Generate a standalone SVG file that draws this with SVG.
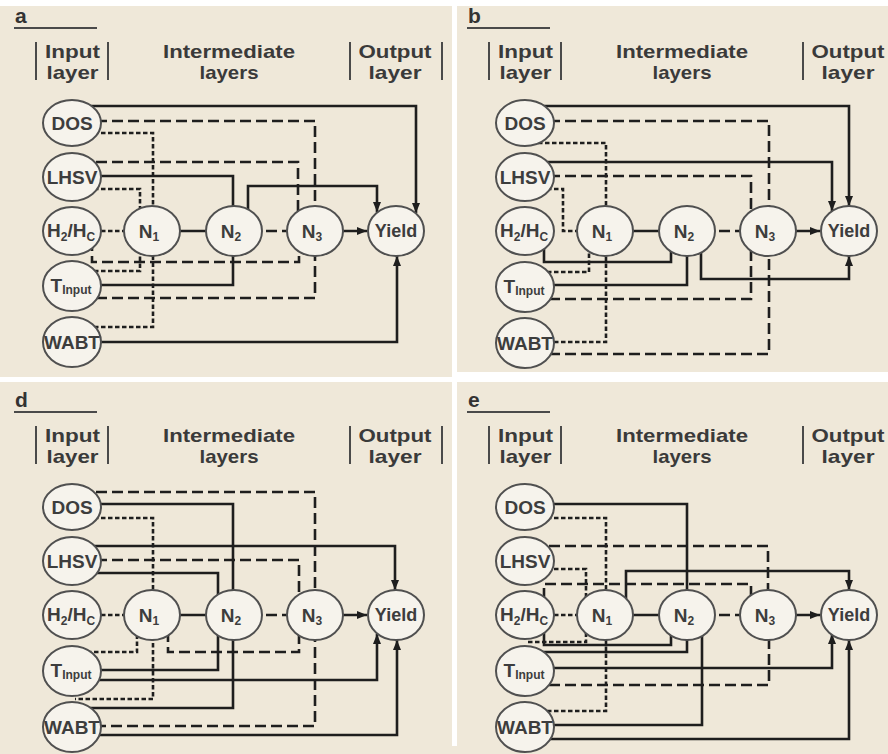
<svg xmlns="http://www.w3.org/2000/svg" width="888" height="754" viewBox="0 0 888 754">
<style>
.hdr{font-family:"Liberation Sans",Arial,sans-serif;font-weight:bold;font-size:19px;fill:#3a3a3a;text-anchor:middle}
.plbl{font-family:"Liberation Sans",Arial,sans-serif;font-weight:bold;font-size:21px;fill:#333}
.bar{stroke:#4a4a4a;stroke-width:2;fill:none}
.nd ellipse{fill:#f6f3ec;stroke:#505050;stroke-width:2}
.nd text{font-family:"Liberation Sans",Arial,sans-serif;font-weight:bold;font-size:19px;fill:#3d3d3d;text-anchor:middle}
.nd .sub{font-size:12px}
.c path{fill:none;stroke:#1e1e1e;stroke-width:2.6}
.c .d{stroke-dasharray:11 5}
.c .t{stroke-dasharray:4.5 2.5}
.c .a{marker-end:url(#ah)}
</style>
<defs>
<marker id="ah" markerUnits="userSpaceOnUse" viewBox="0 0 10 8" markerWidth="10" markerHeight="8" refX="10" refY="4" orient="auto"><path d="M0,0 L10,4 L0,8 z" fill="#1e1e1e"/></marker>
</defs>
<rect x="0" y="0" width="888" height="754" fill="#efe8d9"/>
<g id="separators" fill="#ffffff">
<rect x="0" y="0" width="888" height="6"/>
<rect x="452" y="0" width="5" height="746"/>
<rect x="0" y="377" width="888" height="5"/>
<rect x="457" y="372" width="431" height="5"/>
</g>

<!-- PANEL A -->
<g id="panel-a">
<g id="a-header">
<text class="plbl" x="15" y="23">a</text>
<line class="bar" x1="14" y1="28" x2="97" y2="28"/>
<line class="bar" x1="36" y1="42" x2="36" y2="80"/>
<line class="bar" x1="108" y1="42" x2="108" y2="80"/>
<line class="bar" x1="350" y1="42" x2="350" y2="80"/>
<line class="bar" x1="442" y1="42" x2="442" y2="80"/>
<text class="hdr" x="72.5" y="57.5" textLength="55" lengthAdjust="spacingAndGlyphs">Input</text><text class="hdr" x="72.5" y="79" textLength="52" lengthAdjust="spacingAndGlyphs">layer</text>
<text class="hdr" x="229" y="57.5" textLength="132" lengthAdjust="spacingAndGlyphs">Intermediate</text><text class="hdr" x="229" y="79" textLength="59" lengthAdjust="spacingAndGlyphs">layers</text>
<text class="hdr" x="395" y="57.5" textLength="73" lengthAdjust="spacingAndGlyphs">Output</text><text class="hdr" x="395" y="79" textLength="53" lengthAdjust="spacingAndGlyphs">layer</text>
</g>
<g id="a-connectors" class="c">
<path class="a" d="M80,106 H416 V213"/>
<path class="d" d="M80,121 H315 V231"/>
<path class="t" d="M80,133 H153 V231"/>
<path class="d" d="M80,162 H298 V231"/>
<path d="M80,176 H233 V231"/>
<path class="t" d="M80,189 H140 V231"/>
<path class="a" d="M248,231 V186 H377 V212"/>
<path class="t" d="M80,231 H140"/>
<path d="M170,231 H220"/>
<path class="d" d="M250,231 H300"/>
<path class="a" d="M330,231 H367"/>
<path class="d" d="M92,240 V262 H299 V231"/>
<path class="t" d="M80,271 H140 V231"/>
<path d="M80,285 H233 V231"/>
<path class="d" d="M80,298 H315 V231"/>
<path class="t" d="M80,327 H153 V231"/>
<path class="a" d="M80,342 H397 V256"/>
</g>
<g id="a-DOS" class="nd"><ellipse cx="72" cy="123" rx="29" ry="23"/><text x="72" y="130">DOS</text></g>
<g id="a-LHSV" class="nd"><ellipse cx="72" cy="177" rx="29" ry="24"/><text x="72" y="184">LHSV</text></g>
<g id="a-H2HC" class="nd"><ellipse cx="72" cy="231" rx="29" ry="24"/><text x="71" y="237">H<tspan class="sub" dy="4">2</tspan><tspan dy="-4">/H</tspan><tspan class="sub" dy="4">C</tspan></text></g>
<g id="a-Tinput" class="nd"><ellipse cx="72" cy="286" rx="29" ry="25"/><text x="71" y="292">T<tspan class="sub" dy="2">Input</tspan></text></g>
<g id="a-WABT" class="nd"><ellipse cx="72" cy="342" rx="29" ry="25"/><text x="72" y="349">WABT</text></g>
<g id="a-N1" class="nd"><ellipse cx="152" cy="231" rx="28" ry="25"/><text x="149" y="238">N<tspan class="sub" dy="3">1</tspan></text></g>
<g id="a-N2" class="nd"><ellipse cx="234" cy="231" rx="28" ry="25"/><text x="231" y="238">N<tspan class="sub" dy="3">2</tspan></text></g>
<g id="a-N3" class="nd"><ellipse cx="315" cy="231" rx="28" ry="25"/><text x="312" y="238">N<tspan class="sub" dy="3">3</tspan></text></g>
<g id="a-Yield" class="nd"><ellipse cx="396" cy="231" rx="28" ry="25"/><text x="396" y="237" style="font-size:18px">Yield</text></g>
</g>

<!-- PANEL B -->
<g id="panel-b" transform="translate(453,0)">
<g id="b-header">
<text class="plbl" x="15" y="23">b</text>
<line class="bar" x1="14" y1="28" x2="97" y2="28"/>
<line class="bar" x1="36" y1="42" x2="36" y2="80"/>
<line class="bar" x1="108" y1="42" x2="108" y2="80"/>
<line class="bar" x1="350" y1="42" x2="350" y2="80"/>
<text class="hdr" x="72.5" y="57.5" textLength="55" lengthAdjust="spacingAndGlyphs">Input</text><text class="hdr" x="72.5" y="79" textLength="52" lengthAdjust="spacingAndGlyphs">layer</text>
<text class="hdr" x="229" y="57.5" textLength="132" lengthAdjust="spacingAndGlyphs">Intermediate</text><text class="hdr" x="229" y="79" textLength="59" lengthAdjust="spacingAndGlyphs">layers</text>
<text class="hdr" x="395" y="57.5" textLength="73" lengthAdjust="spacingAndGlyphs">Output</text><text class="hdr" x="395" y="79" textLength="53" lengthAdjust="spacingAndGlyphs">layer</text>
</g>
<g id="b-connectors" class="c">
<path class="a" d="M80,106 H396 V206"/>
<path class="d" d="M80,121 H316 V231"/>
<path class="t" d="M78,143 H153 V231"/>
<path class="a" d="M80,162 H379 V211"/>
<path class="d" d="M80,176 H298 V231"/>
<path class="t" d="M80,189 H110 V231 H140"/>
<path d="M170,231 H220"/>
<path class="d" d="M250,231 H300"/>
<path class="a" d="M330,231 H367"/>
<path d="M91,240 V262 H218 V231"/>
<path class="t" d="M80,272 H136 V231"/>
<path d="M80,285 H234 V231"/>
<path class="d" d="M80,299 H298 V231"/>
<path class="a" d="M248,231 V279 H396 V256"/>
<path class="t" d="M80,342 H153 V231"/>
<path class="d" d="M80,354 H316 V231"/>
</g>
<g id="b-DOS" class="nd"><ellipse cx="72" cy="123" rx="29" ry="23"/><text x="72" y="130">DOS</text></g>
<g id="b-LHSV" class="nd"><ellipse cx="72" cy="177" rx="29" ry="24"/><text x="72" y="184">LHSV</text></g>
<g id="b-H2HC" class="nd"><ellipse cx="72" cy="231" rx="29" ry="24"/><text x="71" y="237">H<tspan class="sub" dy="4">2</tspan><tspan dy="-4">/H</tspan><tspan class="sub" dy="4">C</tspan></text></g>
<g id="b-Tinput" class="nd"><ellipse cx="72" cy="287" rx="29" ry="25"/><text x="71" y="293">T<tspan class="sub" dy="2">Input</tspan></text></g>
<g id="b-WABT" class="nd"><ellipse cx="72" cy="343" rx="29" ry="25"/><text x="72" y="350">WABT</text></g>
<g id="b-N1" class="nd"><ellipse cx="152" cy="231" rx="28" ry="25"/><text x="149" y="238">N<tspan class="sub" dy="3">1</tspan></text></g>
<g id="b-N2" class="nd"><ellipse cx="234" cy="231" rx="28" ry="25"/><text x="231" y="238">N<tspan class="sub" dy="3">2</tspan></text></g>
<g id="b-N3" class="nd"><ellipse cx="315" cy="231" rx="28" ry="25"/><text x="312" y="238">N<tspan class="sub" dy="3">3</tspan></text></g>
<g id="b-Yield" class="nd"><ellipse cx="396" cy="231" rx="28" ry="25"/><text x="396" y="237" style="font-size:18px">Yield</text></g>
</g>

<!-- PANEL D -->
<g id="panel-d" transform="translate(0,384)">
<g id="d-header">
<text class="plbl" x="15" y="23">d</text>
<line class="bar" x1="14" y1="28" x2="97" y2="28"/>
<line class="bar" x1="36" y1="42" x2="36" y2="80"/>
<line class="bar" x1="108" y1="42" x2="108" y2="80"/>
<line class="bar" x1="350" y1="42" x2="350" y2="80"/>
<line class="bar" x1="442" y1="42" x2="442" y2="80"/>
<text class="hdr" x="72.5" y="57.5" textLength="55" lengthAdjust="spacingAndGlyphs">Input</text><text class="hdr" x="72.5" y="79" textLength="52" lengthAdjust="spacingAndGlyphs">layer</text>
<text class="hdr" x="229" y="57.5" textLength="132" lengthAdjust="spacingAndGlyphs">Intermediate</text><text class="hdr" x="229" y="79" textLength="59" lengthAdjust="spacingAndGlyphs">layers</text>
<text class="hdr" x="395" y="57.5" textLength="73" lengthAdjust="spacingAndGlyphs">Output</text><text class="hdr" x="395" y="79" textLength="53" lengthAdjust="spacingAndGlyphs">layer</text>
</g>
<g id="d-connectors" class="c">
<path class="d" d="M80,108 H315 V231"/>
<path d="M80,120 H233 V231"/>
<path class="t" d="M80,134 H153 V231"/>
<path class="a" d="M80,162 H395 V206"/>
<path class="d" d="M80,176 H299 V231"/>
<path d="M80,189 H218 V231"/>
<path class="t" d="M80,231 H140"/>
<path d="M170,231 H220"/>
<path class="d" d="M250,231 H300"/>
<path class="a" d="M330,231 H367"/>
<path class="t" d="M80,268 H137 V231"/>
<path class="d" d="M168,231 V268 H299 V231"/>
<path d="M80,286 H218 V231"/>
<path class="a" d="M80,296 H377 V250"/>
<path class="t" d="M153,231 V315 H75"/>
<path d="M233,231 V324 H80"/>
<path class="d" d="M315,231 V342 H80"/>
<path class="a" d="M80,351 H397 V256"/>
</g>
<g id="d-DOS" class="nd"><ellipse cx="72" cy="123" rx="29" ry="23"/><text x="72" y="130">DOS</text></g>
<g id="d-LHSV" class="nd"><ellipse cx="72" cy="177" rx="29" ry="24"/><text x="72" y="184">LHSV</text></g>
<g id="d-H2HC" class="nd"><ellipse cx="72" cy="231" rx="29" ry="24"/><text x="71" y="237">H<tspan class="sub" dy="4">2</tspan><tspan dy="-4">/H</tspan><tspan class="sub" dy="4">C</tspan></text></g>
<g id="d-Tinput" class="nd"><ellipse cx="72" cy="287" rx="29" ry="25"/><text x="71" y="293">T<tspan class="sub" dy="2">Input</tspan></text></g>
<g id="d-WABT" class="nd"><ellipse cx="72" cy="343" rx="29" ry="25"/><text x="72" y="350">WABT</text></g>
<g id="d-N1" class="nd"><ellipse cx="152" cy="231" rx="28" ry="25"/><text x="149" y="238">N<tspan class="sub" dy="3">1</tspan></text></g>
<g id="d-N2" class="nd"><ellipse cx="234" cy="231" rx="28" ry="25"/><text x="231" y="238">N<tspan class="sub" dy="3">2</tspan></text></g>
<g id="d-N3" class="nd"><ellipse cx="315" cy="231" rx="28" ry="25"/><text x="312" y="238">N<tspan class="sub" dy="3">3</tspan></text></g>
<g id="d-Yield" class="nd"><ellipse cx="396" cy="231" rx="28" ry="25"/><text x="396" y="237" style="font-size:18px">Yield</text></g>
</g>

<!-- PANEL E -->
<g id="panel-e" transform="translate(453,384)">
<g id="e-header">
<text class="plbl" x="15" y="23">e</text>
<line class="bar" x1="14" y1="28" x2="97" y2="28"/>
<line class="bar" x1="36" y1="42" x2="36" y2="80"/>
<line class="bar" x1="108" y1="42" x2="108" y2="80"/>
<line class="bar" x1="350" y1="42" x2="350" y2="80"/>
<text class="hdr" x="72.5" y="57.5" textLength="55" lengthAdjust="spacingAndGlyphs">Input</text><text class="hdr" x="72.5" y="79" textLength="52" lengthAdjust="spacingAndGlyphs">layer</text>
<text class="hdr" x="229" y="57.5" textLength="132" lengthAdjust="spacingAndGlyphs">Intermediate</text><text class="hdr" x="229" y="79" textLength="59" lengthAdjust="spacingAndGlyphs">layers</text>
<text class="hdr" x="395" y="57.5" textLength="73" lengthAdjust="spacingAndGlyphs">Output</text><text class="hdr" x="395" y="79" textLength="53" lengthAdjust="spacingAndGlyphs">layer</text>
</g>
<g id="e-connectors" class="c">
<path d="M80,120 H234 V231"/>
<path class="t" d="M80,134 H153 V231"/>
<path class="d" d="M80,162 H315 V231"/>
<path class="t" d="M80,185 H133 V231"/>
<path class="a" d="M173,231 V187 H396 V206"/>
<path class="d" d="M91,231 V200 H298 V231"/>
<path class="t" d="M80,231 H140"/>
<path d="M170,231 H220"/>
<path class="d" d="M250,231 H300"/>
<path class="a" d="M330,231 H367"/>
<path class="t" d="M75,258 H133 V231"/>
<path d="M91,240 V261 H218 V231"/>
<path d="M85,268 H234 V231"/>
<path class="a" d="M80,284 H379 V250"/>
<path class="d" d="M80,301 H316 V231"/>
<path class="t" d="M80,327 H153 V231"/>
<path d="M80,341 H249 V231"/>
<path class="a" d="M80,355 H396 V256"/>
</g>
<g id="e-DOS" class="nd"><ellipse cx="72" cy="123" rx="29" ry="23"/><text x="72" y="130">DOS</text></g>
<g id="e-LHSV" class="nd"><ellipse cx="72" cy="177" rx="29" ry="24"/><text x="72" y="184">LHSV</text></g>
<g id="e-H2HC" class="nd"><ellipse cx="72" cy="231" rx="29" ry="24"/><text x="71" y="237">H<tspan class="sub" dy="4">2</tspan><tspan dy="-4">/H</tspan><tspan class="sub" dy="4">C</tspan></text></g>
<g id="e-Tinput" class="nd"><ellipse cx="72" cy="287" rx="29" ry="25"/><text x="71" y="293">T<tspan class="sub" dy="2">Input</tspan></text></g>
<g id="e-WABT" class="nd"><ellipse cx="72" cy="343" rx="29" ry="25"/><text x="72" y="350">WABT</text></g>
<g id="e-N1" class="nd"><ellipse cx="152" cy="231" rx="28" ry="25"/><text x="149" y="238">N<tspan class="sub" dy="3">1</tspan></text></g>
<g id="e-N2" class="nd"><ellipse cx="234" cy="231" rx="28" ry="25"/><text x="231" y="238">N<tspan class="sub" dy="3">2</tspan></text></g>
<g id="e-N3" class="nd"><ellipse cx="315" cy="231" rx="28" ry="25"/><text x="312" y="238">N<tspan class="sub" dy="3">3</tspan></text></g>
<g id="e-Yield" class="nd"><ellipse cx="396" cy="231" rx="28" ry="25"/><text x="396" y="237" style="font-size:18px">Yield</text></g>
</g>
</svg>
